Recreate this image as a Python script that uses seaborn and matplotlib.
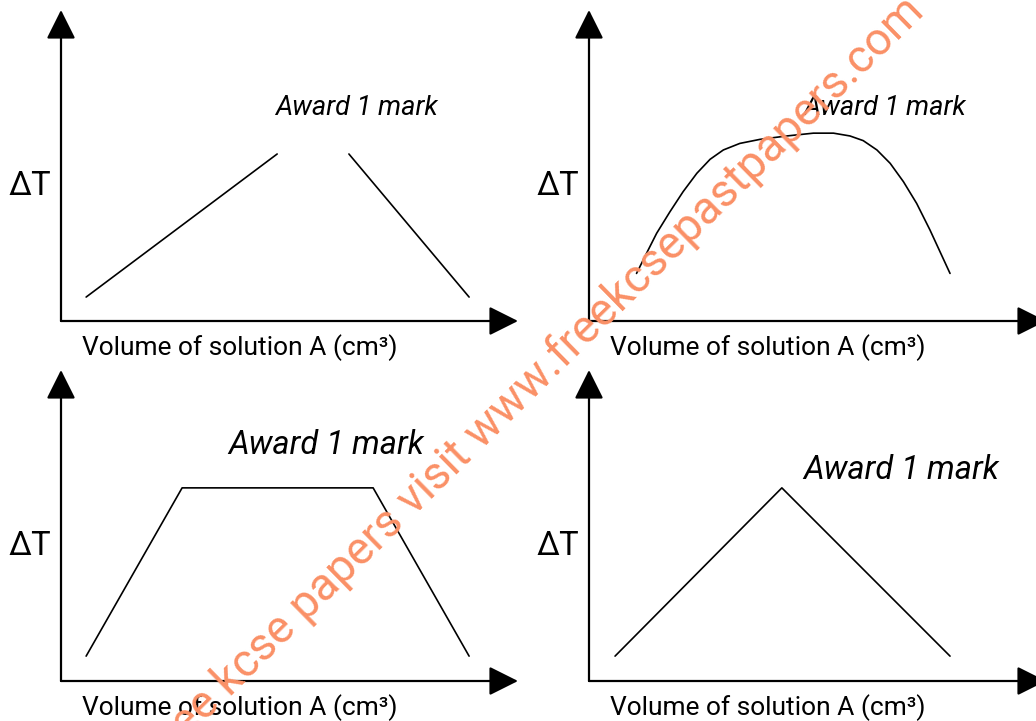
import matplotlib
matplotlib.use("Agg")
import matplotlib.pyplot as plt
import seaborn as sns
import pandas as pd

sns.set_theme(style="white")
plt.rcParams['font.family'] = ['Roboto', 'DejaVu Sans']

# ---- data (volume of solution A vs temperature change, arbitrary units) ----
p1_rise_x = [0.55, 4.73]
p1_rise_y = [0.77, 5.37]
p1_fall_x = [6.30, 8.93]
p1_fall_y = [5.37, 0.77]

p2_x = [1.04, 1.26, 1.48, 1.77, 2.06, 2.36, 2.65, 2.94, 3.30, 3.74, 4.33, 4.91,
        5.35, 5.71, 6.00, 6.30, 6.59, 6.88, 7.17, 7.46, 7.68, 7.90]
p2_y = [1.53, 2.18, 2.82, 3.51, 4.16, 4.75, 5.20, 5.50, 5.71, 5.84, 5.95, 6.04,
        6.04, 5.95, 5.80, 5.50, 5.07, 4.48, 3.78, 2.93, 2.23, 1.53]

p3_x = [0.55, 2.65, 6.83, 8.93]
p3_y = [0.80, 6.21, 6.21, 0.80]

p4_x = [0.57, 4.22, 7.90]
p4_y = [0.80, 6.21, 0.80]

x_label = "Volume of solution A (cm³)"
y_label = "ΔT"
note = "Award 1 mark"
watermark = "free kcse papers visit www.freekcsepastpapers.com"

W, H = 1036, 721
fig = plt.figure(figsize=(W / 100, H / 100), dpi=100)

def make_ax(ox, oy):
    # ox, oy: pixel position of the axis origin (top-left image coords)
    w, h = 457, 311
    ax = fig.add_axes([ox / W, 1 - oy / H, w / W, h / H])
    ax.set_xlim(0, 10)
    ax.set_ylim(0, 10)
    ax.axis('off')
    ax.patch.set_alpha(0)
    # arrows
    ax.annotate('', xy=(1.0, 0), xytext=(0, 0), xycoords='axes fraction',
                arrowprops=dict(arrowstyle='-|>,head_length=1.5,head_width=0.75',
                                lw=1.6, color='black', shrinkA=0, shrinkB=0),
                annotation_clip=False)
    ax.annotate('', xy=(0, 1.0), xytext=(0, 0), xycoords='axes fraction',
                arrowprops=dict(arrowstyle='-|>,head_length=1.5,head_width=0.75',
                                lw=1.6, color='black', shrinkA=0, shrinkB=0),
                annotation_clip=False)
    ax.text(-0.022, 0.435, y_label, transform=ax.transAxes, ha='right', va='center',
            fontsize=23.5, color='black')
    ax.text(0.046, -0.087, x_label, transform=ax.transAxes, ha='left', va='center',
            fontsize=19, color='black')
    return ax

lw = 1.2
ax1 = make_ax(61, 321)
sns.lineplot(x=p1_rise_x, y=p1_rise_y, ax=ax1, color='black', lw=lw, sort=False)
sns.lineplot(x=p1_fall_x, y=p1_fall_y, ax=ax1, color='black', lw=lw, sort=False)
ax1.text(0.468, 0.685, note, transform=ax1.transAxes, ha='left', va='center',
         fontsize=19.5, style='italic', color='black')

ax2 = make_ax(589, 321)
sns.lineplot(x=p2_x, y=p2_y, ax=ax2, color='black', lw=lw, sort=False)
ax2.text(0.468, 0.685, note, transform=ax2.transAxes, ha='left', va='center',
         fontsize=19.5, style='italic', color='black')

ax3 = make_ax(61, 681)
sns.lineplot(x=p3_x, y=p3_y, ax=ax3, color='black', lw=lw, sort=False)
ax3.text(0.365, 0.759, note, transform=ax3.transAxes, ha='left', va='center',
         fontsize=23.5, style='italic', color='black')

ax4 = make_ax(589, 681)
sns.lineplot(x=p4_x, y=p4_y, ax=ax4, color='black', lw=lw, sort=False)
ax4.text(0.470, 0.678, note, transform=ax4.transAxes, ha='left', va='center',
         fontsize=23.5, style='italic', color='black')

fig.text(536 / W, 1 - 378 / H, watermark, rotation=44.5, rotation_mode='anchor',
         ha='center', va='center', fontsize=33, color='#FA9066', zorder=10)

fig.savefig('out.png', dpi=100, facecolor='white')
